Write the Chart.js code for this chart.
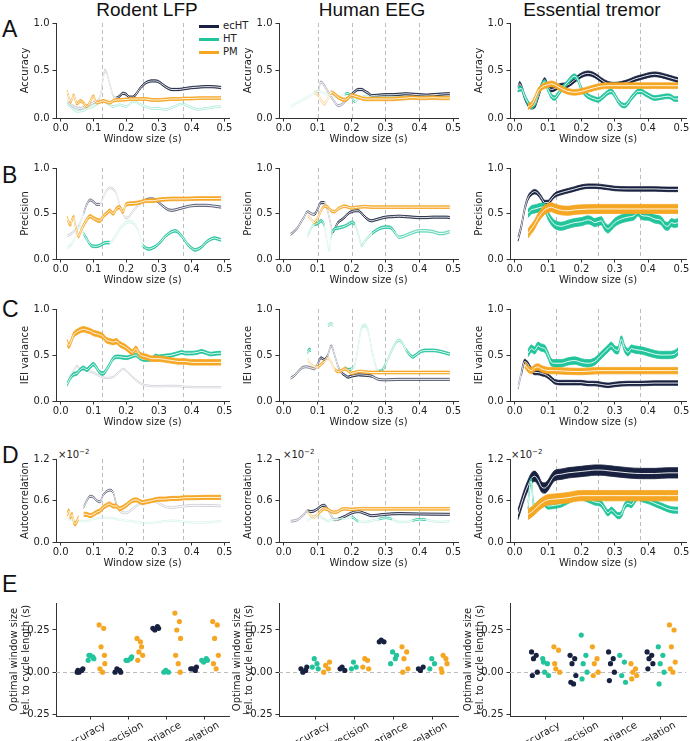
<!DOCTYPE html>
<html><head><meta charset="utf-8">
<script src="https://cdn.jsdelivr.net/npm/chart.js@4.4.0/dist/chart.umd.min.js"></script>
<style>
body{margin:0;background:#fff;width:690px;height:741px;overflow:hidden;position:relative;font-family:"DejaVu Sans";}
canvas{position:absolute;}
.ttl{position:absolute;width:240px;text-align:center;font-family:"Liberation Sans";font-size:19px;line-height:19px;color:#111;top:0;}
.let{position:absolute;font-family:"Liberation Sans";font-size:23px;line-height:24px;color:#111;left:2px;}
.lg{position:absolute;font-size:10px;line-height:12px;color:#222;}
.lgl{position:absolute;height:3px;width:20px;}
.sci{position:absolute;font-size:10px;line-height:10px;color:#222;}
</style></head><body>
<div class="ttl" style="left:27px">Rodent LFP</div>
<div class="ttl" style="left:252px">Human EEG</div>
<div class="ttl" style="left:472px">Essential tremor</div>
<div class="let" style="top:17px">A</div>
<div class="let" style="top:163px">B</div>
<div class="let" style="top:297px">C</div>
<div class="let" style="top:443px">D</div>
<div class="let" style="top:572px">E</div>
<div class="lgl" style="left:199px;top:25px;background:#18213f"></div><div class="lg" style="left:223px;top:20px">ecHT</div>
<div class="lgl" style="left:199px;top:38px;background:#22c49c"></div><div class="lg" style="left:223px;top:33px">HT</div>
<div class="lgl" style="left:199px;top:51px;background:#f5a623"></div><div class="lg" style="left:223px;top:46px">PM</div>
<div class="sci" style="left:58px;top:447px">×10<sup style="font-size:7px">−2</sup></div>
<div class="sci" style="left:283px;top:447px">×10<sup style="font-size:7px">−2</sup></div>
<div class="sci" style="left:511px;top:447px">×10<sup style="font-size:7px">−2</sup></div>
<script>
// ---------------- DATA ----------------
const seriesNames = ['ecHT','HT','PM'];
const rowLabels = ['Accuracy','Precision','IEI variance','Autocorrelation'];
const rodentMarks = [0.125,0.25,0.375];
const eegMarks = [0.1,0.2,0.3,0.4];
const tremorMarks = [0.125,0.25,0.375];

// Row A: Accuracy  [window size (s), mean]
const A_rodent_ecHT=[[0.02,0.17],[0.04,0.12],[0.06,0.10],[0.08,0.13],[0.10,0.16],[0.12,0.22],[0.13,0.42],[0.135,0.50],[0.14,0.48],[0.15,0.36],[0.16,0.24],[0.17,0.21],[0.18,0.23],[0.19,0.26],[0.20,0.25],[0.21,0.22],[0.22,0.22],[0.23,0.25],[0.24,0.30],[0.25,0.34],[0.26,0.37],[0.27,0.385],[0.28,0.39],[0.29,0.39],[0.30,0.38],[0.31,0.355],[0.32,0.33],[0.33,0.31],[0.34,0.30],[0.36,0.30],[0.38,0.31],[0.40,0.32],[0.42,0.325],[0.44,0.33],[0.46,0.33],[0.48,0.325],[0.49,0.32]];
const A_rodent_HT=[[0.02,0.15],[0.03,0.12],[0.05,0.07],[0.07,0.08],[0.08,0.10],[0.10,0.12],[0.12,0.17],[0.13,0.18],[0.14,0.16],[0.16,0.12],[0.18,0.14],[0.20,0.12],[0.22,0.17],[0.23,0.17],[0.24,0.15],[0.26,0.12],[0.28,0.10],[0.30,0.10],[0.32,0.09],[0.34,0.11],[0.36,0.14],[0.37,0.15],[0.38,0.14],[0.40,0.11],[0.42,0.09],[0.44,0.10],[0.46,0.11],[0.48,0.12],[0.49,0.12]];
const A_rodent_PM=[[0.02,0.28],[0.025,0.22],[0.03,0.17],[0.035,0.20],[0.04,0.24],[0.045,0.19],[0.05,0.15],[0.06,0.18],[0.07,0.16],[0.08,0.12],[0.09,0.17],[0.10,0.23],[0.11,0.16],[0.12,0.17],[0.13,0.18],[0.14,0.17],[0.15,0.16],[0.16,0.18],[0.17,0.19],[0.18,0.19],[0.20,0.195],[0.22,0.20],[0.24,0.20],[0.26,0.20],[0.28,0.19],[0.30,0.19],[0.32,0.195],[0.34,0.20],[0.36,0.20],[0.38,0.205],[0.40,0.205],[0.42,0.21],[0.44,0.21],[0.46,0.21],[0.48,0.21],[0.49,0.21]];
const A_rodent_hw=[0.012,0.01,0.015];
const A_rodent_fade=[[[0,0.165,0.2]],[[0,0.5,0.28]],[]];

const A_eeg_ecHT=[[0.10,0.25],[0.11,0.38],[0.12,0.34],[0.13,0.28],[0.14,0.22],[0.15,0.17],[0.16,0.13],[0.17,0.14],[0.18,0.17],[0.19,0.21],[0.20,0.25],[0.21,0.28],[0.22,0.30],[0.23,0.30],[0.24,0.28],[0.25,0.26],[0.26,0.235],[0.28,0.24],[0.30,0.245],[0.32,0.245],[0.34,0.25],[0.36,0.255],[0.38,0.25],[0.40,0.245],[0.42,0.24],[0.44,0.245],[0.46,0.25],[0.48,0.255],[0.49,0.255]];
const A_eeg_HT=[[0.02,0.12],[0.04,0.16],[0.06,0.20],[0.08,0.24],[0.10,0.28],[0.12,0.26],[0.14,0.24],[0.16,0.22],[0.18,0.25],[0.19,0.26],[0.20,0.22],[0.21,0.17],[0.22,0.20],[0.24,0.23],[0.26,0.22],[0.28,0.22],[0.30,0.22],[0.34,0.22],[0.38,0.22],[0.42,0.22],[0.46,0.22],[0.49,0.22]];
const A_eeg_PM=[[0.09,0.27],[0.10,0.25],[0.11,0.19],[0.12,0.15],[0.13,0.20],[0.14,0.27],[0.15,0.25],[0.16,0.22],[0.17,0.20],[0.18,0.19],[0.19,0.21],[0.20,0.24],[0.21,0.23],[0.22,0.22],[0.24,0.20],[0.26,0.20],[0.28,0.20],[0.30,0.20],[0.32,0.20],[0.34,0.205],[0.36,0.21],[0.38,0.215],[0.40,0.21],[0.42,0.21],[0.44,0.215],[0.46,0.21],[0.49,0.21]];
const A_eeg_hw=[0.012,0.01,0.018];
const A_eeg_fade=[[[0,0.19,0.3]],[[0,0.17,0.12],[0.21,0.5,0.3]],[[0,0.135,0.3]]];

const A_tremor_ecHT=[[0.01,0.30],[0.015,0.36],[0.02,0.33],[0.03,0.22],[0.04,0.15],[0.05,0.12],[0.06,0.13],[0.07,0.22],[0.08,0.33],[0.09,0.40],[0.10,0.33],[0.11,0.30],[0.12,0.31],[0.13,0.33],[0.14,0.34],[0.16,0.35],[0.18,0.40],[0.20,0.45],[0.22,0.47],[0.24,0.45],[0.26,0.40],[0.28,0.36],[0.30,0.35],[0.32,0.36],[0.34,0.38],[0.36,0.41],[0.38,0.43],[0.40,0.45],[0.42,0.46],[0.44,0.45],[0.46,0.43],[0.48,0.41],[0.49,0.40]];
const A_tremor_HT=[[0.01,0.30],[0.02,0.31],[0.03,0.23],[0.04,0.16],[0.05,0.12],[0.06,0.15],[0.07,0.25],[0.08,0.34],[0.09,0.38],[0.10,0.30],[0.11,0.23],[0.12,0.21],[0.13,0.25],[0.14,0.30],[0.15,0.34],[0.16,0.38],[0.17,0.42],[0.18,0.44],[0.19,0.40],[0.20,0.31],[0.21,0.26],[0.22,0.23],[0.24,0.20],[0.25,0.19],[0.26,0.21],[0.27,0.24],[0.28,0.27],[0.29,0.28],[0.30,0.24],[0.31,0.18],[0.32,0.14],[0.33,0.13],[0.34,0.16],[0.35,0.21],[0.36,0.25],[0.37,0.28],[0.38,0.28],[0.39,0.26],[0.40,0.24],[0.42,0.21],[0.44,0.22],[0.46,0.23],[0.47,0.22],[0.48,0.20],[0.49,0.20]];
const A_tremor_PM=[[0.04,0.12],[0.05,0.14],[0.06,0.20],[0.07,0.28],[0.08,0.32],[0.09,0.34],[0.10,0.35],[0.11,0.36],[0.12,0.35],[0.13,0.33],[0.14,0.31],[0.16,0.28],[0.18,0.27],[0.20,0.28],[0.22,0.30],[0.24,0.32],[0.26,0.335],[0.28,0.34],[0.30,0.34],[0.34,0.34],[0.38,0.34],[0.42,0.34],[0.46,0.34],[0.49,0.34]];
const A_tremor_hw=[0.025,0.025,0.03];
const A_tremor_fade=[[],[],[]];

// Row B: Precision
const B_rodent_ecHT=[[0.02,0.25],[0.04,0.30],[0.06,0.40],[0.07,0.50],[0.08,0.60],[0.09,0.65],[0.10,0.63],[0.11,0.60],[0.12,0.60],[0.13,0.68],[0.14,0.75],[0.15,0.78],[0.16,0.77],[0.17,0.72],[0.18,0.60],[0.19,0.50],[0.20,0.45],[0.21,0.47],[0.22,0.52],[0.24,0.60],[0.26,0.65],[0.28,0.66],[0.29,0.65],[0.30,0.62],[0.32,0.56],[0.33,0.54],[0.34,0.535],[0.36,0.55],[0.38,0.57],[0.40,0.585],[0.42,0.59],[0.44,0.59],[0.46,0.585],[0.48,0.575],[0.49,0.57]];
const B_rodent_HT=[[0.02,0.12],[0.04,0.20],[0.05,0.30],[0.06,0.36],[0.07,0.28],[0.08,0.22],[0.09,0.16],[0.10,0.14],[0.11,0.14],[0.12,0.15],[0.13,0.17],[0.14,0.18],[0.15,0.18],[0.16,0.21],[0.17,0.27],[0.18,0.33],[0.19,0.37],[0.20,0.40],[0.21,0.41],[0.22,0.40],[0.23,0.36],[0.24,0.28],[0.25,0.16],[0.26,0.12],[0.27,0.11],[0.28,0.12],[0.29,0.14],[0.30,0.17],[0.31,0.21],[0.32,0.25],[0.33,0.28],[0.34,0.30],[0.35,0.31],[0.36,0.29],[0.37,0.25],[0.38,0.20],[0.39,0.15],[0.40,0.12],[0.41,0.10],[0.42,0.11],[0.43,0.13],[0.44,0.17],[0.45,0.20],[0.46,0.22],[0.47,0.23],[0.48,0.22],[0.49,0.21]];
const B_rodent_PM=[[0.02,0.45],[0.025,0.40],[0.03,0.38],[0.035,0.43],[0.04,0.46],[0.045,0.37],[0.05,0.30],[0.055,0.25],[0.06,0.29],[0.07,0.37],[0.08,0.43],[0.09,0.47],[0.10,0.45],[0.11,0.43],[0.12,0.42],[0.13,0.47],[0.14,0.50],[0.15,0.53],[0.16,0.50],[0.17,0.55],[0.18,0.57],[0.19,0.52],[0.20,0.60],[0.22,0.61],[0.24,0.62],[0.26,0.64],[0.28,0.64],[0.30,0.65],[0.34,0.66],[0.38,0.66],[0.42,0.665],[0.46,0.665],[0.49,0.665]];
const B_rodent_hw=[0.012,0.015,0.02];
const B_rodent_fade=[[[0,0.065,0.15],[0.065,0.115,0.55],[0.115,0.25,0.15],[0.25,0.5,0.65]],[[0,0.065,0.15],[0.155,0.245,0.15]],[]];

const B_eeg_ecHT=[[0.02,0.27],[0.03,0.30],[0.04,0.34],[0.05,0.40],[0.06,0.46],[0.07,0.52],[0.08,0.50],[0.09,0.49],[0.10,0.55],[0.11,0.62],[0.12,0.62],[0.13,0.52],[0.14,0.36],[0.145,0.30],[0.15,0.33],[0.16,0.40],[0.17,0.43],[0.18,0.46],[0.19,0.50],[0.20,0.52],[0.21,0.53],[0.22,0.53],[0.23,0.50],[0.24,0.46],[0.25,0.43],[0.26,0.42],[0.27,0.43],[0.28,0.44],[0.30,0.46],[0.32,0.465],[0.34,0.47],[0.36,0.465],[0.38,0.46],[0.40,0.455],[0.42,0.455],[0.44,0.46],[0.46,0.46],[0.48,0.46],[0.49,0.455]];
const B_eeg_HT=[[0.07,0.25],[0.08,0.33],[0.09,0.38],[0.10,0.39],[0.11,0.42],[0.12,0.36],[0.125,0.25],[0.13,0.15],[0.135,0.10],[0.14,0.25],[0.15,0.33],[0.16,0.34],[0.17,0.35],[0.18,0.36],[0.19,0.38],[0.20,0.40],[0.21,0.38],[0.22,0.27],[0.23,0.15],[0.24,0.20],[0.25,0.24],[0.26,0.28],[0.28,0.33],[0.30,0.35],[0.31,0.35],[0.32,0.33],[0.33,0.28],[0.34,0.24],[0.35,0.245],[0.36,0.26],[0.38,0.29],[0.40,0.31],[0.42,0.31],[0.44,0.30],[0.46,0.28],[0.47,0.28],[0.48,0.29],[0.49,0.30]];
const B_eeg_PM=[[0.07,0.48],[0.08,0.44],[0.09,0.40],[0.10,0.45],[0.11,0.53],[0.12,0.58],[0.13,0.57],[0.14,0.53],[0.15,0.52],[0.16,0.55],[0.17,0.57],[0.18,0.58],[0.19,0.57],[0.20,0.56],[0.22,0.57],[0.24,0.575],[0.26,0.57],[0.30,0.57],[0.34,0.57],[0.38,0.57],[0.42,0.57],[0.46,0.57],[0.49,0.57]];
const B_eeg_hw=[0.012,0.015,0.015];
const B_eeg_fade=[[[0,0.09,0.5],[0.125,0.145,0.3]],[[0,0.085,0.3],[0.12,0.145,0.2],[0.215,0.26,0.3],[0.33,0.5,0.6]],[[0,0.085,0.4]]];

const B_tremor_ecHT=[[0.01,0.22],[0.02,0.36],[0.03,0.55],[0.04,0.67],[0.05,0.72],[0.06,0.74],[0.07,0.72],[0.08,0.67],[0.09,0.62],[0.10,0.62],[0.11,0.66],[0.12,0.70],[0.14,0.73],[0.16,0.75],[0.18,0.77],[0.20,0.79],[0.22,0.80],[0.24,0.80],[0.26,0.795],[0.28,0.785],[0.30,0.775],[0.34,0.77],[0.38,0.77],[0.42,0.77],[0.46,0.765],[0.49,0.765]];
const B_tremor_HT=[[0.04,0.50],[0.05,0.54],[0.06,0.55],[0.07,0.56],[0.08,0.57],[0.09,0.57],[0.10,0.48],[0.11,0.42],[0.12,0.38],[0.14,0.36],[0.16,0.38],[0.18,0.40],[0.20,0.41],[0.22,0.43],[0.23,0.42],[0.24,0.40],[0.25,0.41],[0.26,0.42],[0.27,0.36],[0.28,0.33],[0.29,0.36],[0.30,0.40],[0.32,0.44],[0.34,0.46],[0.36,0.48],[0.37,0.52],[0.38,0.48],[0.40,0.47],[0.42,0.44],[0.44,0.42],[0.45,0.37],[0.46,0.36],[0.47,0.40],[0.48,0.39],[0.49,0.40]];
const B_tremor_PM=[[0.04,0.28],[0.05,0.33],[0.06,0.38],[0.07,0.45],[0.08,0.50],[0.09,0.54],[0.10,0.56],[0.11,0.57],[0.12,0.555],[0.14,0.535],[0.16,0.53],[0.18,0.54],[0.20,0.545],[0.25,0.55],[0.30,0.55],[0.35,0.55],[0.40,0.55],[0.45,0.55],[0.49,0.55]];
const B_tremor_hw=[0.025,0.045,0.05];
const B_tremor_fade=[[],[],[]];

// Row C: IEI variance
const C_rodent_ecHT=[[0.02,0.20],[0.03,0.28],[0.04,0.33],[0.05,0.38],[0.06,0.35],[0.08,0.33],[0.10,0.31],[0.12,0.27],[0.14,0.25],[0.16,0.26],[0.18,0.32],[0.19,0.35],[0.20,0.33],[0.22,0.26],[0.24,0.20],[0.26,0.17],[0.30,0.16],[0.34,0.165],[0.38,0.155],[0.42,0.15],[0.46,0.15],[0.49,0.15]];
const C_rodent_HT=[[0.02,0.18],[0.03,0.25],[0.04,0.29],[0.05,0.30],[0.06,0.34],[0.07,0.36],[0.08,0.34],[0.09,0.37],[0.10,0.40],[0.11,0.36],[0.12,0.31],[0.13,0.30],[0.14,0.34],[0.15,0.40],[0.16,0.46],[0.17,0.48],[0.18,0.48],[0.20,0.47],[0.22,0.49],[0.23,0.50],[0.24,0.47],[0.26,0.45],[0.28,0.46],[0.29,0.49],[0.30,0.48],[0.32,0.49],[0.34,0.50],[0.36,0.52],[0.37,0.53],[0.38,0.52],[0.40,0.52],[0.42,0.53],[0.43,0.54],[0.44,0.53],[0.46,0.51],[0.48,0.52],[0.49,0.52]];
const C_rodent_PM=[[0.02,0.64],[0.025,0.60],[0.03,0.63],[0.04,0.72],[0.05,0.75],[0.06,0.77],[0.07,0.78],[0.08,0.77],[0.09,0.76],[0.10,0.74],[0.11,0.73],[0.12,0.72],[0.13,0.70],[0.14,0.66],[0.15,0.65],[0.16,0.64],[0.17,0.65],[0.18,0.62],[0.19,0.60],[0.20,0.58],[0.21,0.55],[0.22,0.53],[0.23,0.57],[0.24,0.51],[0.25,0.49],[0.26,0.48],[0.28,0.46],[0.30,0.46],[0.32,0.45],[0.34,0.44],[0.36,0.43],[0.38,0.43],[0.40,0.42],[0.44,0.42],[0.49,0.42]];
const C_rodent_hw=[0.008,0.02,0.03];
const C_rodent_fade=[[[0,0.5,0.18]],[],[]];

const C_eeg_ecHT=[[0.02,0.25],[0.03,0.27],[0.04,0.31],[0.05,0.35],[0.06,0.37],[0.07,0.37],[0.08,0.36],[0.09,0.35],[0.10,0.40],[0.11,0.47],[0.12,0.45],[0.13,0.50],[0.14,0.60],[0.15,0.50],[0.16,0.38],[0.17,0.31],[0.18,0.28],[0.19,0.26],[0.20,0.27],[0.22,0.285],[0.24,0.28],[0.26,0.27],[0.27,0.25],[0.28,0.235],[0.30,0.23],[0.34,0.235],[0.40,0.235],[0.44,0.235],[0.49,0.235]];
const C_eeg_HT=[[0.07,0.53],[0.075,0.56],[0.08,0.55],[0.09,null],[0.13,0.82],[0.14,0.84],[0.145,0.82],[0.15,null],[0.18,0.36],[0.19,0.34],[0.20,0.35],[0.21,0.40],[0.22,0.60],[0.23,0.80],[0.24,0.82],[0.25,0.75],[0.26,0.55],[0.27,0.40],[0.28,0.32],[0.29,0.33],[0.30,0.40],[0.31,0.48],[0.32,0.56],[0.33,0.63],[0.34,0.66],[0.35,0.63],[0.36,0.56],[0.37,0.51],[0.38,0.48],[0.39,0.50],[0.40,0.53],[0.41,0.545],[0.42,0.55],[0.44,0.55],[0.46,0.54],[0.48,0.52],[0.49,0.51]];
const C_eeg_PM=[[0.07,0.45],[0.08,0.40],[0.09,0.37],[0.10,0.37],[0.11,0.40],[0.12,0.43],[0.13,0.47],[0.14,0.42],[0.15,0.35],[0.16,0.32],[0.17,0.33],[0.18,0.35],[0.19,0.33],[0.20,0.30],[0.21,0.31],[0.22,0.32],[0.23,0.32],[0.24,0.315],[0.26,0.31],[0.30,0.31],[0.34,0.31],[0.40,0.31],[0.49,0.31]];
const C_eeg_hw=[0.012,0.015,0.015];
const C_eeg_fade=[[[0,0.095,0.45],[0.13,0.165,0.45],[0.26,0.5,0.65]],[[0.12,0.16,0.4],[0.2,0.275,0.25],[0.305,0.355,0.4]],[[0,0.095,0.35],[0.12,0.15,0.4]]];

const C_tremor_ecHT=[[0.01,0.15],[0.02,0.30],[0.03,0.43],[0.04,0.40],[0.05,0.34],[0.06,0.31],[0.07,0.31],[0.08,0.30],[0.09,0.29],[0.10,0.27],[0.11,0.24],[0.12,0.21],[0.14,0.20],[0.16,0.20],[0.18,0.20],[0.20,0.20],[0.22,0.19],[0.24,0.19],[0.26,0.18],[0.28,0.17],[0.30,0.18],[0.34,0.19],[0.38,0.19],[0.42,0.195],[0.46,0.195],[0.49,0.195]];
const C_tremor_HT=[[0.04,0.52],[0.05,0.57],[0.06,0.55],[0.07,0.60],[0.08,0.58],[0.09,0.57],[0.10,0.50],[0.11,0.42],[0.12,0.41],[0.14,0.41],[0.16,0.43],[0.18,0.44],[0.20,0.42],[0.22,0.41],[0.24,0.43],[0.26,0.50],[0.28,0.57],[0.29,0.60],[0.30,0.56],[0.31,0.55],[0.32,0.67],[0.33,0.57],[0.34,0.53],[0.35,0.57],[0.36,0.56],[0.38,0.55],[0.40,0.53],[0.42,0.51],[0.44,0.50],[0.46,0.50],[0.48,0.51],[0.49,0.54]];
const C_tremor_PM=[[0.03,0.40],[0.04,0.35],[0.05,0.33],[0.06,0.36],[0.07,0.37],[0.08,0.35],[0.09,0.34],[0.10,0.33],[0.12,0.33],[0.15,0.325],[0.20,0.32],[0.25,0.33],[0.30,0.33],[0.35,0.33],[0.40,0.33],[0.45,0.33],[0.49,0.33]];
const C_tremor_hw=[0.025,0.04,0.035];
const C_tremor_fade=[[[0,0.02,0.4]],[],[]];

// Row D: Autocorrelation (x1e-2)
const D_rodent_ecHT=[[0.07,0.50],[0.08,0.60],[0.09,0.66],[0.10,0.65],[0.11,0.60],[0.12,0.58],[0.13,0.68],[0.14,0.73],[0.15,0.75],[0.16,0.72],[0.17,0.55],[0.18,0.45],[0.20,0.42],[0.22,0.48],[0.24,0.55],[0.26,0.58],[0.28,0.60],[0.30,0.56],[0.32,0.51],[0.34,0.50],[0.36,0.51],[0.38,0.52],[0.40,0.53],[0.44,0.53],[0.49,0.52]];
const D_rodent_HT=[[0.02,0.33],[0.05,0.30],[0.08,0.30],[0.10,0.33],[0.12,0.35],[0.15,0.35],[0.18,0.32],[0.22,0.30],[0.26,0.27],[0.30,0.29],[0.34,0.31],[0.38,0.29],[0.42,0.28],[0.46,0.29],[0.49,0.30]];
const D_rodent_PM=[[0.02,0.40],[0.025,0.45],[0.03,0.36],[0.035,0.40],[0.04,0.29],[0.045,0.26],[0.05,0.30],[0.055,0.35],[0.06,null],[0.07,0.40],[0.08,0.40],[0.09,0.38],[0.10,0.40],[0.11,0.43],[0.12,0.45],[0.13,0.50],[0.14,0.53],[0.15,0.55],[0.16,0.52],[0.17,0.52],[0.18,0.48],[0.19,0.50],[0.20,0.53],[0.21,0.57],[0.22,0.60],[0.23,0.61],[0.24,0.59],[0.25,0.57],[0.26,0.58],[0.28,0.60],[0.30,0.62],[0.32,0.62],[0.34,0.63],[0.36,0.63],[0.38,0.64],[0.40,0.64],[0.44,0.645],[0.49,0.645]];
const D_rodent_hw=[0.015,0.01,0.03];
const D_rodent_fade=[[[0,0.075,0.3],[0.075,0.165,0.55],[0.165,0.5,0.15]],[[0,0.5,0.15]],[]];

const D_eeg_ecHT=[[0.02,0.30],[0.04,0.32],[0.06,0.40],[0.07,0.45],[0.08,0.44],[0.09,0.45],[0.10,0.48],[0.11,0.52],[0.12,0.53],[0.13,0.47],[0.14,0.38],[0.15,0.32],[0.16,0.33],[0.18,0.37],[0.20,0.42],[0.22,0.44],[0.24,0.41],[0.26,0.38],[0.28,0.39],[0.30,0.40],[0.34,0.41],[0.40,0.405],[0.49,0.40]];
const D_eeg_HT=[[0.07,0.30],[0.08,0.35],[0.10,0.38],[0.12,0.33],[0.13,0.30],[0.14,0.32],[0.16,0.33],[0.18,0.34],[0.20,0.36],[0.22,0.30],[0.24,0.29],[0.26,0.31],[0.28,0.33],[0.30,0.35],[0.32,0.33],[0.34,0.29],[0.36,0.29],[0.38,0.31],[0.40,0.33],[0.42,0.32],[0.44,0.30],[0.46,0.29],[0.49,0.30]];
const D_eeg_PM=[[0.07,0.44],[0.08,0.38],[0.09,0.36],[0.10,0.40],[0.11,0.45],[0.12,0.48],[0.13,0.47],[0.14,0.44],[0.15,0.43],[0.16,0.44],[0.17,0.47],[0.18,0.48],[0.20,0.47],[0.22,0.48],[0.24,0.48],[0.30,0.48],[0.40,0.48],[0.49,0.48]];
const D_eeg_hw=[0.015,0.012,0.02];
const D_eeg_fade=[[[0,0.075,0.3],[0.13,0.165,0.3]],[[0,0.09,0.2],[0.11,0.19,0.2],[0.215,0.28,0.2],[0.32,0.38,0.2],[0.42,0.5,0.2]],[[0,0.1,0.4]]];

const D_tremor_ecHT=[[0.01,0.40],[0.02,0.55],[0.03,0.70],[0.04,0.82],[0.05,0.92],[0.06,0.95],[0.07,0.90],[0.08,0.80],[0.09,0.78],[0.10,0.82],[0.11,0.90],[0.12,0.96],[0.14,0.98],[0.16,1.00],[0.18,1.01],[0.20,1.02],[0.22,1.03],[0.24,1.04],[0.26,1.04],[0.28,1.03],[0.30,1.02],[0.34,1.00],[0.38,0.99],[0.42,0.99],[0.46,1.00],[0.49,1.00]];
const D_tremor_HT=[[0.04,0.52],[0.045,0.80],[0.05,0.88],[0.055,0.60],[0.06,0.50],[0.07,0.55],[0.08,0.58],[0.09,0.56],[0.10,0.52],[0.12,0.53],[0.14,0.55],[0.16,0.60],[0.18,0.65],[0.19,0.68],[0.20,0.66],[0.22,0.62],[0.24,0.58],[0.26,0.55],[0.27,0.48],[0.28,0.42],[0.29,0.46],[0.30,0.42],[0.31,0.38],[0.32,0.40],[0.33,0.52],[0.34,0.56],[0.35,0.54],[0.36,0.60],[0.37,0.66],[0.38,0.63],[0.40,0.60],[0.42,0.56],[0.44,0.52],[0.46,0.48],[0.48,0.46],[0.49,0.46]];
const D_tremor_PM=[[0.04,0.40],[0.05,0.43],[0.06,0.47],[0.07,0.52],[0.08,0.56],[0.09,0.59],[0.10,0.61],[0.12,0.62],[0.14,0.63],[0.16,0.64],[0.18,0.66],[0.20,0.67],[0.25,0.67],[0.30,0.67],[0.35,0.67],[0.40,0.67],[0.45,0.67],[0.49,0.67]];
const D_tremor_hw=[0.075,0.045,0.075];
const D_tremor_fade=[[],[],[]];

// Row E: optimal window size rel. to cycle length (s); per metric [Accuracy, Precision, IEI variance, Autocorrelation]
const E_categories=['Accuracy','Precision','IEI variance','Autocorrelation'];
const E_yTicks=[-0.25,0,0.25];
const E_rodent_ecHT=[[0.0,0.01,0.0,0.02,0.01],[0.0,0.01,0.02,0.0],[0.26,0.27,0.25,0.26],[0.02,0.01,0.02,0.03]];
const E_rodent_HT=[[0.07,0.09,0.10,0.08,0.10],[0.07,0.08,0.07,0.09],[0.0,0.0,0.01],[0.07,0.08,0.06,0.07]];
const E_rodent_PM=[[0.28,0.26,0.15,0.05,0.02,0.0,0.10],[0.20,0.15,0.12,0.10,0.07,0.18],[0.35,0.30,0.25,0.20,0.10,0.05,0.0],[0.30,0.28,0.20,0.10,0.05,0.02]];
const E_eeg_ecHT=[[0.02,0.01,0.0,0.03],[0.02,0.01,0.03],[0.18,0.18,0.19],[0.02,0.03,0.01]];
const E_eeg_HT=[[0.03,0.05,0.08,0.02],[0.02,0.03,0.06],[0.05,0.08,0.12,0.10],[0.02,0.05,0.08]];
const E_eeg_PM=[[0.0,0.02,0.04,0.06],[0.03,0.07,0.08,0.02],[0.15,0.12,0.08,0.02,0.0],[0.02,0.08,0.10,0.05,0.0]];
const E_tremor_ecHT=[[0.12,0.10,0.08,0.0,-0.02],[0.10,0.08,0.05,-0.02,-0.06,-0.07],[0.12,0.08,0.05,0.0,-0.05],[0.12,0.10,0.08,0.05,0.02]];
const E_tremor_HT=[[0.08,0.05,0.0,-0.02,0.06],[0.22,0.10,0.05,0.0,-0.04],[0.10,0.06,-0.02,-0.06],[0.15,0.10,0.05,0.0,-0.07]];
const E_tremor_PM=[[0.15,0.13,0.02,0.0,0.05],[0.15,0.08,0.05,0.0,-0.02],[0.05,0.02,0.0,-0.02,-0.04],[0.28,0.25,0.15,0.06,0.02,0.0]];

// ---------------- LAYOUT / STYLE ----------------
const COL = ['#18213f','#22c49c','#f5a623'];
const colLeft=[56,279,510], colRight=[229,458,686];
const rowTop=[23,168,309,459,603], rowBottom=[118,259,401,542,716];
const YW=56, TP=10, RP=10, XH=27;
const X_MIN=-0.014, X_MAX=0.514;
const TICKC='#222', AXC='#333';
const FONT={family:'DejaVu Sans',size:10};

function rgba(hex,a){const n=parseInt(hex.slice(1),16);return `rgba(${n>>16},${(n>>8)&255},${n&255},${a})`;}

const guidePlugin={id:'guides',beforeDatasetsDraw(chart,args,opts){
  const {ctx,chartArea:a,scales}=chart; ctx.save(); ctx.strokeStyle='#bdbdbd'; ctx.lineWidth=1; ctx.setLineDash([4,3]);
  (opts.xs||[]).forEach(v=>{const p=Math.round(scales.x.getPixelForValue(v))+0.5;ctx.beginPath();ctx.moveTo(p,a.top);ctx.lineTo(p,a.bottom);ctx.stroke();});
  (opts.ys||[]).forEach(v=>{const p=Math.round(scales.y.getPixelForValue(v))+0.5;ctx.beginPath();ctx.moveTo(a.left,p);ctx.lineTo(a.right,p);ctx.stroke();});
  ctx.restore();}};

function makeCanvas(c,r,xh){
  const cv=document.createElement('canvas');
  const w=YW+(colRight[c]-colLeft[c])+RP, h=TP+(rowBottom[r]-rowTop[r])+xh;
  cv.width=w; cv.height=h; cv.style.left=(colLeft[c]-YW)+'px'; cv.style.top=(rowTop[r]-TP)+'px';
  cv.style.width=w+'px'; cv.style.height=h+'px';
  document.body.appendChild(cv); return cv.getContext('2d');
}

function bandSets(pairs,hw,fade,color,base){
  const seg=ctx=>{const xm=(ctx.p0.parsed.x+ctx.p1.parsed.x)/2;for(const f of fade){if(xm>=f[0]&&xm<=f[1])return rgba(color,f[2]);}return undefined;};
  const common={pointRadius:0,pointHoverRadius:0,cubicInterpolationMode:'monotone',spanGaps:false};
  const up=pairs.map(p=>({x:p[0],y:p[1]==null?null:p[1]+hw}));
  const lo=pairs.map(p=>({x:p[0],y:p[1]==null?null:p[1]-hw}));
  const mid=pairs.map(p=>({x:p[0],y:p[1]}));
  return [
    Object.assign({},common,{data:up,borderColor:color,backgroundColor:color,borderWidth:0.8,fill:'+1',order:base+1,segment:{borderColor:seg,backgroundColor:seg}}),
    Object.assign({},common,{data:lo,borderColor:color,borderWidth:0.8,fill:false,order:base+1,segment:{borderColor:seg}}),
    Object.assign({},common,{data:mid,borderColor:'#ffffff',borderWidth:0.9,fill:false,order:base})
  ];
}

function lineChart(c,r,series,hw,fade,marks){
  const ctx=makeCanvas(c,r,XH);
  let ds=[];
  const orderBase=[6,3,0];
  series.forEach((s,i)=>{ds=ds.concat(bandSets(s,hw[i],fade[i],COL[i],orderBase[i]));});
  const yMax=r===3?1.2:1, yStep=r===3?0.6:0.5;
  new Chart(ctx,{type:'line',data:{datasets:ds},plugins:[guidePlugin],
    options:{responsive:false,animation:false,devicePixelRatio:1,
      layout:{padding:{left:0,top:TP,right:RP,bottom:0}},
      plugins:{legend:{display:false},tooltip:{enabled:false},guides:{xs:marks}},
      scales:{
        x:{type:'linear',min:X_MIN,max:X_MAX,afterFit:s=>{s.height=XH;},
          afterBuildTicks:s=>{s.ticks=[0,0.1,0.2,0.3,0.4,0.5].map(v=>({value:v}));},
          ticks:{callback:v=>v.toFixed(1),color:TICKC,font:FONT,padding:1,maxRotation:0,autoSkip:false},
          grid:{drawOnChartArea:false,drawTicks:true,tickLength:3.5,color:AXC},
          border:{display:true,color:AXC,width:1},
          title:{display:true,text:'Window size (s)',color:TICKC,font:FONT,padding:0}},
        y:{min:0,max:yMax,afterFit:s=>{s.width=YW;},
          afterBuildTicks:s=>{s.ticks=[0,yStep,yMax].map(v=>({value:v}));},
          ticks:{callback:v=>v.toFixed(1),color:TICKC,font:FONT,padding:3},
          grid:{drawOnChartArea:false,drawTicks:true,tickLength:3.5,color:AXC},
          border:{display:true,color:AXC,width:1},
          title:{display:true,text:rowLabels[r],color:TICKC,font:FONT,padding:{top:19,bottom:0}}}
      }}});
}

const marksByCol=[rodentMarks,eegMarks,tremorMarks];
const panels=[
 [0,0,[A_rodent_ecHT,A_rodent_HT,A_rodent_PM],A_rodent_hw,A_rodent_fade],
 [1,0,[A_eeg_ecHT,A_eeg_HT,A_eeg_PM],A_eeg_hw,A_eeg_fade],
 [2,0,[A_tremor_ecHT,A_tremor_HT,A_tremor_PM],A_tremor_hw,A_tremor_fade],
 [0,1,[B_rodent_ecHT,B_rodent_HT,B_rodent_PM],B_rodent_hw,B_rodent_fade],
 [1,1,[B_eeg_ecHT,B_eeg_HT,B_eeg_PM],B_eeg_hw,B_eeg_fade],
 [2,1,[B_tremor_ecHT,B_tremor_HT,B_tremor_PM],B_tremor_hw,B_tremor_fade],
 [0,2,[C_rodent_ecHT,C_rodent_HT,C_rodent_PM],C_rodent_hw,C_rodent_fade],
 [1,2,[C_eeg_ecHT,C_eeg_HT,C_eeg_PM],C_eeg_hw,C_eeg_fade],
 [2,2,[C_tremor_ecHT,C_tremor_HT,C_tremor_PM],C_tremor_hw,C_tremor_fade],
 [0,3,[D_rodent_ecHT,D_rodent_HT,D_rodent_PM],D_rodent_hw,D_rodent_fade],
 [1,3,[D_eeg_ecHT,D_eeg_HT,D_eeg_PM],D_eeg_hw,D_eeg_fade],
 [2,3,[D_tremor_ecHT,D_tremor_HT,D_tremor_PM],D_tremor_hw,D_tremor_fade]
];
panels.forEach(p=>lineChart(p[0],p[1],p[2],p[3],p[4],marksByCol[p[0]]));

// Row E strip plots
const E_off=[-0.29,0,0.29];
const E_jit=[-0.07,0.05,-0.02,0.08,-0.05,0.02,0.07,-0.08];
function stripChart(c,groups){
  const EXH=40;
  const ctx=makeCanvas(c,4,EXH);
  const ds=groups.map((g,s)=>{
    const pts=[]; g.forEach((vals,k)=>vals.forEach((v,j)=>pts.push({x:k+E_off[s]+E_jit[j%E_jit.length],y:v})));
    return {data:pts,backgroundColor:COL[s],borderWidth:0,pointRadius:2.6,pointHoverRadius:2.6,order:2-s};
  });
  new Chart(ctx,{type:'scatter',data:{datasets:ds},plugins:[guidePlugin],
    options:{responsive:false,animation:false,devicePixelRatio:1,
      layout:{padding:{left:0,top:TP,right:RP,bottom:0}},
      plugins:{legend:{display:false},tooltip:{enabled:false},guides:{ys:[0]}},
      scales:{
        x:{type:'linear',min:-0.92,max:3.65,afterFit:s=>{s.height=EXH;},
          afterBuildTicks:s=>{s.ticks=E_categories.map((n,i)=>({value:i}));},
          ticks:{callback:v=>E_categories[v],color:TICKC,font:FONT,padding:0,labelOffset:14,minRotation:30,maxRotation:30,autoSkip:false},
          grid:{drawOnChartArea:false,drawTicks:true,tickLength:3.5,color:AXC},
          border:{display:true,color:AXC,width:1}},
        y:{min:-0.26,max:0.41,afterFit:s=>{s.width=YW;},
          afterBuildTicks:s=>{s.ticks=E_yTicks.map(v=>({value:v}));},
          ticks:{callback:v=>v.toFixed(2).replace('-','\u2212'),color:TICKC,font:FONT,padding:3},
          grid:{drawOnChartArea:false,drawTicks:true,tickLength:3.5,color:AXC},
          border:{display:true,color:AXC,width:1},
          title:{display:true,text:['Optimal window size','rel. to cycle length (s)'],color:TICKC,font:FONT,padding:{top:8,bottom:0}}}
      }}});
}
stripChart(0,[E_rodent_ecHT,E_rodent_HT,E_rodent_PM]);
stripChart(1,[E_eeg_ecHT,E_eeg_HT,E_eeg_PM]);
stripChart(2,[E_tremor_ecHT,E_tremor_HT,E_tremor_PM]);
</script>
</body></html>
